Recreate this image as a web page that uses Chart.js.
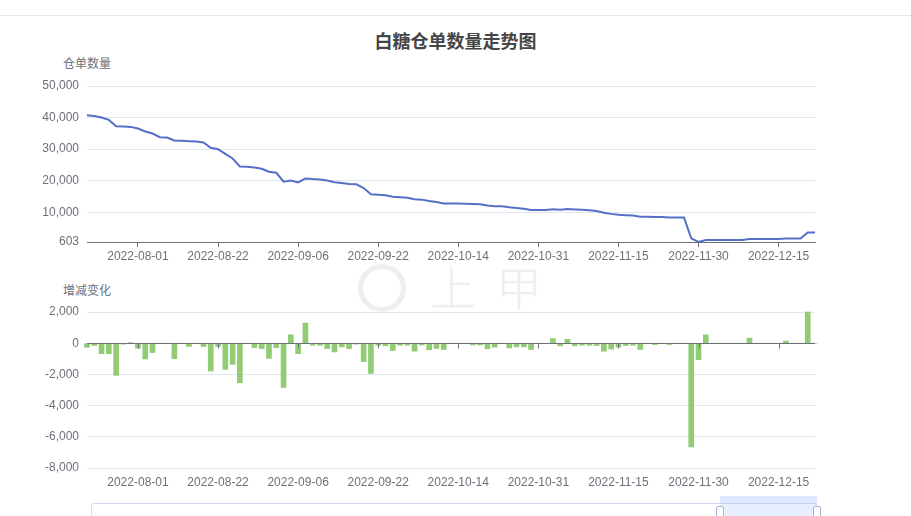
<!DOCTYPE html>
<html>
<head>
<meta charset="utf-8">
<script src="https://cdn.jsdelivr.net/npm/chart.js@4.4.1/dist/chart.umd.min.js"></script>
<style>
  html, body { margin: 0; padding: 0; background: #fff; }
  body { width: 911px; height: 516px; position: relative; overflow: hidden;
         font-family: "Liberation Sans", Arial, "Noto Sans CJK SC", sans-serif; }
  .abs { position: absolute; }
  #topline { left: 0; top: 15px; width: 911px; height: 1px; background: #e6e6e6; }
  #title { left: 0; width: 911px; top: 29px; text-align: center; font-size: 18px; font-weight: bold;
           color: #464646; font-family: "Noto Sans CJK SC", "Liberation Sans", sans-serif; line-height: 22px; }
  .axname { font-size: 12px; color: #6E7079; width: 80px; margin-left: -40px; text-align: center;
            font-family: "Noto Sans CJK SC", sans-serif; line-height: 14px; }
  #wm { left: 352px; top: 260px; width: 220px; height: 56px; color: #eeeeee; white-space: nowrap; }
  #wm .circ { position: absolute; left: 6px; top: 4px; width: 38px; height: 38px; border: 5px solid #eeeeee;
              border-radius: 50%; }
  #wm .txt { position: absolute; left: 78px; top: 0px; font-size: 46px; line-height: 50px; letter-spacing: 20px;
             font-family: "Noto Sans CJK SC", sans-serif; font-weight: 300; white-space: nowrap; }
  #dz { left: 91px; top: 503px; width: 726px; height: 40px; border: 1px solid #d2dbee; border-radius: 3px; box-sizing: border-box; }
  #dzsel { left: 720px; top: 503px; width: 97px; height: 40px; background: rgba(135,175,255,0.2); }
  #dzbar { left: 720px; top: 496px; width: 97px; height: 7px; background: rgba(135,175,255,0.28); }
  .hdl { width: 6px; height: 14px; top: 506px; background: #fff; border: 1px solid #aab6d3; border-radius: 2px; }
  canvas { position: absolute; left: 0; }
</style>
</head>
<body>
<div id="topline" class="abs"></div>
<div id="title" class="abs">白糖仓单数量走势图</div>
<div class="abs axname" style="left:87px; top:56px;">仓单数量</div>
<div class="abs axname" style="left:87px; top:283px;">增减变化</div>
<div id="wm" class="abs"><div class="circ"></div><div class="txt">上甲</div></div>
<canvas id="c1" width="911" height="220" style="top:60px"></canvas>
<canvas id="c2" width="911" height="220" style="top:290px"></canvas>
<div id="dz" class="abs"></div>
<div id="dzsel" class="abs"></div>
<div id="dzbar" class="abs"></div>
<div class="abs hdl" style="left:716px"></div>
<div class="abs hdl" style="left:813px"></div>
<script>
const dates = [
  "2022-07-21","2022-07-22","2022-07-25","2022-07-26","2022-07-27","2022-07-28","2022-07-29","2022-08-01",
  "2022-08-02","2022-08-03","2022-08-05","2022-08-08","2022-08-10","2022-08-11","2022-08-12","2022-08-15","2022-08-17","2022-08-19",
  "2022-08-22","2022-08-23","2022-08-24","2022-08-25","2022-08-26","2022-08-29","2022-08-30","2022-08-31","2022-09-01","2022-09-02","2022-09-05",
  "2022-09-06","2022-09-07","2022-09-08","2022-09-09","2022-09-13","2022-09-14","2022-09-15","2022-09-16","2022-09-19","2022-09-20","2022-09-21",
  "2022-09-22","2022-09-23","2022-09-26","2022-09-27","2022-09-28","2022-09-29","2022-09-30","2022-10-10","2022-10-11","2022-10-12","2022-10-13",
  "2022-10-14","2022-10-17","2022-10-18","2022-10-19","2022-10-20","2022-10-21","2022-10-24","2022-10-25","2022-10-26","2022-10-27","2022-10-28",
  "2022-10-31","2022-11-01","2022-11-02","2022-11-03","2022-11-04","2022-11-07","2022-11-08","2022-11-09","2022-11-10","2022-11-11","2022-11-14",
  "2022-11-15","2022-11-16","2022-11-17","2022-11-18","2022-11-21","2022-11-22","2022-11-23","2022-11-24","2022-11-25","2022-11-28","2022-11-29",
  "2022-11-30","2022-12-01","2022-12-02","2022-12-05","2022-12-06","2022-12-07","2022-12-08","2022-12-09","2022-12-12","2022-12-13","2022-12-14",
  "2022-12-15","2022-12-16","2022-12-19","2022-12-20","2022-12-21","2022-12-22"
];
const shownDates = ["2022-08-01","2022-08-22","2022-09-06","2022-09-22","2022-10-14","2022-10-31","2022-11-15","2022-11-30","2022-12-15"];

const receipts = [
  40740,40530,40000,39260,37260,37160,37050,36520,35580,34950,
  33790,33680,32740,32630,32530,32420,32110,30420,30000,28530,
  27050,24530,24420,24210,23790,22840,22530,19680,20100,19470,
  20740,20530,20420,20075,19515,19280,18935,18875,17695,15700,
  15550,15380,14900,14770,14640,14130,14020,13600,13260,12780,
  12780,12760,12740,12630,12520,12160,11900,11900,11600,11370,
  11130,10730,10730,10700,11000,10830,11080,10910,10780,10650,
  10400,9890,9510,9255,9105,8975,8570,8570,8485,8485,
  8400,8400,8380,1765,603,1250,1250,1250,1250,1250,
  1250,1580,1580,1580,1580,1580,1700,1700,1700,3650,
  3650
];
const changes = [
  -260,-150,-670,-670,-2060,-60,30,-320,-1010,-600,
  0,0,-990,0,-215,0,-215,-1785,-215,-1680,
  -1355,-2540,0,-280,-345,-970,-280,-2840,540,-670,
  1290,-130,-130,-345,-560,-235,-345,-60,-1180,-1935,
  -130,-170,-470,-130,-130,-510,-110,-425,-340,-405,
  0,0,0,-110,-110,-360,-255,0,-300,-235,
  -235,-405,0,-30,300,-170,255,-170,-130,-130,
  -150,-510,-380,-255,-150,-130,-405,0,-85,0,
  -85,0,0,-6650,-1050,535,0,0,0,0,
  0,320,0,0,0,0,140,0,0,2000,
  0
];
const yTicksTop = [603, 10000, 20000, 30000, 40000, 50000];
const yTicksBottom = [-8000, -6000, -4000, -2000, 0, 2000];

const AXIS = '#6E7079', GRID = '#E0E6F1';
const FONT = { family: '"Liberation Sans", Arial, sans-serif', size: 12 };
const fmt = v => Number(v).toLocaleString('en-US');
const xTickCb = function (val, idx) {
  const lab = this.getLabelForValue(val);
  return shownDates.includes(lab) ? lab : null;
};

function xAxis(showBorder, drawTicks, pad) {
  return {
    type: 'category', offset: false,
    border: { display: showBorder, color: AXIS, width: 1 },
    grid: { display: drawTicks, drawOnChartArea: false, drawTicks: drawTicks, tickLength: 5, color: AXIS },
    ticks: { autoSkip: false, maxRotation: 0, minRotation: 0, color: AXIS, font: FONT, padding: pad, callback: xTickCb },
    afterFit: s => { s.height = 30; }
  };
}
function yAxis(min, max, list) {
  return {
    min: min, max: max,
    border: { display: false },
    grid: { color: GRID, drawTicks: false },
    afterBuildTicks: s => { s.ticks = list.map(v => ({ value: v })); },
    ticks: { color: AXIS, font: FONT, padding: 8, callback: v => fmt(v) },
    afterFit: s => { s.width = 87; }
  };
}

new Chart(document.getElementById('c1'), {
  type: 'line',
  data: { labels: dates, datasets: [{ data: receipts, borderColor: '#5470C6', borderWidth: 2,
          pointRadius: 0, tension: 0, fill: false, clip: false }] },
  options: {
    responsive: false, animation: false, devicePixelRatio: 1,
    layout: { padding: { left: 0, right: 96, top: 26, bottom: 8 } },
    plugins: { legend: { display: false }, tooltip: { enabled: false } },
    scales: { x: xAxis(true, true, 2), y: yAxis(603, 50000, yTicksTop) }
  }
});

const zeroAxis = {
  id: 'zeroAxis',
  afterDatasetsDraw(chart) {
    const { ctx, chartArea, scales } = chart;
    const y0 = Math.round(scales.y.getPixelForValue(0)) + 0.5;
    ctx.save();
    ctx.strokeStyle = AXIS; ctx.lineWidth = 1;
    ctx.beginPath();
    ctx.moveTo(chartArea.left, y0); ctx.lineTo(chartArea.right, y0);
    dates.forEach((d, i) => {
      if (shownDates.includes(d)) {
        const x = Math.round(scales.x.getPixelForValue(i)) + 0.5;
        ctx.moveTo(x, y0); ctx.lineTo(x, y0 + 5);
      }
    });
    ctx.stroke();
    ctx.restore();
  }
};

new Chart(document.getElementById('c2'), {
  type: 'bar',
  data: { labels: dates, datasets: [{ data: changes, backgroundColor: '#91CC75', barThickness: 5, clip: false }] },
  options: {
    responsive: false, animation: false, devicePixelRatio: 1,
    layout: { padding: { left: 0, right: 96, top: 22, bottom: 12 } },
    plugins: { legend: { display: false }, tooltip: { enabled: false } },
    scales: { x: xAxis(false, false, 7), y: yAxis(-8000, 2000, yTicksBottom) }
  },
  plugins: [zeroAxis]
});
</script>
</body>
</html>
